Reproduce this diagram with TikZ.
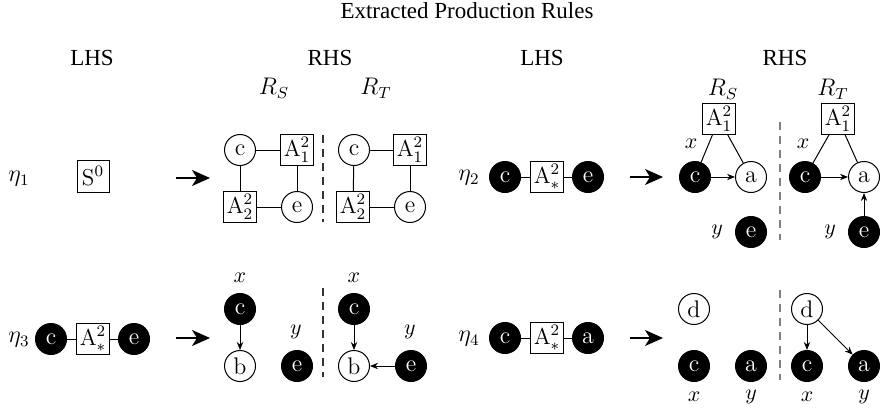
\documentclass[tikz,border=0pt]{standalone}
\usepackage{fontspec}
\newfontfamily\timesfont{Liberation Serif}
\usetikzlibrary{arrows.meta}
\begin{document}
\begin{tikzpicture}[x=0.5pt,y=-0.5pt,
  wn/.style={circle,draw,line width=0.5pt,minimum size=15.5pt,inner sep=0pt,font=\fontsize{12}{12}\selectfont},
  bn/.style={circle,fill=black,draw=black,line width=0.5pt,text=white,minimum size=15.5pt,inner sep=0pt,font=\fontsize{12}{12}\selectfont},
  bx/.style={rectangle,draw,line width=0.5pt,minimum height=15pt,minimum width=16pt,inner sep=1.5pt,font=\fontsize{11.5}{11.5}\selectfont},
  hd/.style={font=\timesfont\fontsize{11.5}{12}\selectfont},
  ml/.style={font=\fontsize{12}{12}\selectfont,inner sep=0pt},
  sl/.style={font=\fontsize{11}{11}\selectfont,inner sep=0pt},
  ln/.style={line width=0.5pt},
  ar/.style={line width=0.5pt,-{Stealth[length=4pt,width=3.2pt]}},
  bigar/.style={line width=0.8pt,-{Stealth[length=9pt,width=8pt,inset=2.5pt]}},
  dl/.style={line width=0.6pt,dash pattern=on 4pt off 3pt},
]
\useasboundingbox (0,0) rectangle (887,413);
% title and headers
\node[hd] (title) at (467,11) {Extracted Production Rules};
\node[hd] (lhs1) at (92,58) {LHS};
\node[hd] (rhs1) at (330,58) {RHS};
\node[hd] (lhs2) at (542,58) {LHS};
\node[hd] (rhs2) at (785,58) {RHS};
\node[ml] (rs1) at (274,88) {$R_S$};
\node[ml] (rt1) at (376,88) {$R_T$};
\node[ml] (rs2) at (723,89) {$R_S$};
\node[ml] (rt2) at (833,89) {$R_T$};

% eta1
\node[ml] (eta1) at (19,179) {$\eta_1$};
\node[bx,minimum height=16pt] (s0) at (93,176) {$\mathrm{S}^0$};
\coordinate (a1s) at (176,178);
\coordinate (a1e) at (210,178);
\draw[bigar] (a1s) -- (a1e);
\node[wn] (c11) at (240,150) {c};
\node[bx] (A11) at (297,150) {$\mathrm{A}^2_1$};
\node[bx] (A12) at (240,207) {$\mathrm{A}^2_2$};
\node[wn] (e11) at (297,207) {e};
\draw[ln] (c11) -- (A11);
\draw[ln] (c11) -- (A12);
\draw[ln] (A11) -- (e11);
\draw[ln] (A12) -- (e11);
\coordinate (d1t) at (323,135);
\coordinate (d1b) at (323,222);
\draw[dl,black!80] (d1t) -- (d1b);
\node[wn] (c12) at (354,150) {c};
\node[bx] (A13) at (410,150) {$\mathrm{A}^2_1$};
\node[bx] (A14) at (353,207) {$\mathrm{A}^2_2$};
\node[wn] (e12) at (410,207) {e};
\draw[ln] (c12) -- (A13);
\draw[ln] (c12) -- (A14);
\draw[ln] (A13) -- (e12);
\draw[ln] (A14) -- (e12);

% eta2
\node[ml] (eta2) at (469,178) {$\eta_2$};
\node[bn] (c2l) at (505,177) {c};
\node[bx] (As2) at (547,177) {$\mathrm{A}^2_*$};
\node[bn] (e2l) at (588,177) {e};
\draw[ln] (c2l) -- (As2);
\draw[ln] (As2) -- (e2l);
\coordinate (a2s) at (630,177);
\coordinate (a2e) at (663,177);
\draw[bigar] (a2s) -- (a2e);
\node[bx] (A21) at (719,119) {$\mathrm{A}^2_1$};
\node[bn] (c21) at (695,177) {c};
\node[wn] (a21) at (751,177) {a};
\node[sl] (x21) at (691,144) {$x$};
\draw[ln] (A21) -- (c21);
\draw[ln] (A21) -- (a21);
\draw[ar] (c21) -- (a21);
\node[bn] (e21) at (751,232) {e};
\node[sl] (y21) at (717,232) {$y$};
\coordinate (d2t) at (780,122);
\coordinate (d2b) at (780,240);
\draw[dl,gray] (d2t) -- (d2b);
\node[bx] (A22) at (838,119) {$\mathrm{A}^2_1$};
\node[bn] (c22) at (805,177) {c};
\node[wn] (a22) at (864,177) {a};
\node[sl] (x22) at (803,144) {$x$};
\draw[ln] (A22) -- (c22);
\draw[ln] (A22) -- (a22);
\draw[ar] (c22) -- (a22);
\node[bn] (e22) at (864,232) {e};
\node[sl] (y22) at (830,232) {$y$};
\draw[ar] (e22) -- (a22);

% eta3
\node[ml] (eta3) at (19,340) {$\eta_3$};
\node[bn] (c3l) at (51,339) {c};
\node[bx] (As3) at (93,339) {$\mathrm{A}^2_*$};
\node[bn] (e3l) at (134,339) {e};
\draw[ln] (c3l) -- (As3);
\draw[ln] (As3) -- (e3l);
\coordinate (a3s) at (176,338);
\coordinate (a3e) at (210,338);
\draw[bigar] (a3s) -- (a3e);
\node[bn] (c31) at (240,309) {c};
\node[wn] (b31) at (240,366) {b};
\node[sl] (x31) at (240,278) {$x$};
\node[bn] (e31) at (297,366) {e};
\node[sl] (y31) at (296,332) {$y$};
\draw[ar] (c31) -- (b31);
\coordinate (d3t) at (323,288);
\coordinate (d3b) at (323,377);
\draw[dl,black!80] (d3t) -- (d3b);
\node[bn] (c32) at (354,309) {c};
\node[wn] (b32) at (354,366) {b};
\node[sl] (x32) at (354,278) {$x$};
\node[bn] (e32) at (411,366) {e};
\node[sl] (y32) at (410,332) {$y$};
\draw[ar] (c32) -- (b32);
\draw[ar] (e32) -- (b32);

% eta4
\node[ml] (eta4) at (469,339) {$\eta_4$};
\node[bn] (c4l) at (505,338) {c};
\node[bx] (As4) at (547,338) {$\mathrm{A}^2_*$};
\node[bn] (a4l) at (588,338) {a};
\draw[ln] (c4l) -- (As4);
\draw[ln] (As4) -- (a4l);
\coordinate (a4s) at (630,338);
\coordinate (a4e) at (663,338);
\draw[bigar] (a4s) -- (a4e);
\node[wn] (d41) at (694,309) {d};
\node[bn] (c41) at (694,366) {c};
\node[bn] (a41) at (751,366) {a};
\node[sl] (x41) at (694,397) {$x$};
\node[sl] (y41) at (751,397) {$y$};
\coordinate (d4t) at (780,290);
\coordinate (d4b) at (780,380);
\draw[dl,gray] (d4t) -- (d4b);
\node[wn] (d42) at (807,309) {d};
\node[bn] (c42) at (807,366) {c};
\node[bn] (a42) at (864,366) {a};
\node[sl] (x42) at (807,397) {$x$};
\node[sl] (y42) at (864,397) {$y$};
\draw[ar] (d42) -- (c42);
\draw[ar] (d42) -- (a42);
\end{tikzpicture}
\end{document}
